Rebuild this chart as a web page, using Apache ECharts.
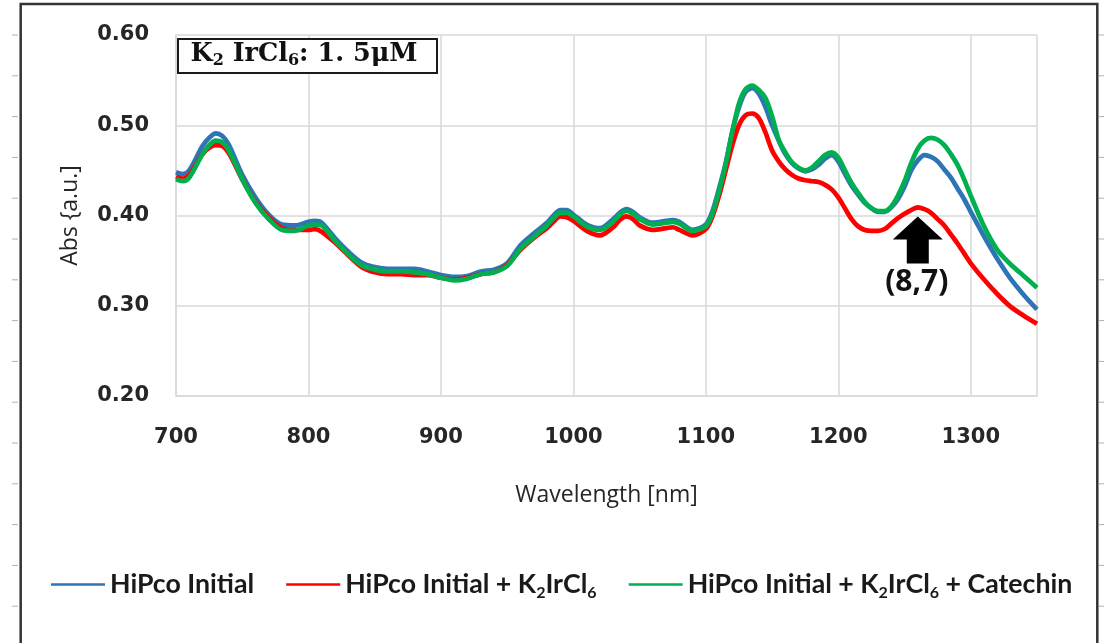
<!DOCTYPE html>
<html>
<head>
<meta charset="utf-8">
<script src="https://cdn.jsdelivr.net/npm/echarts@6/dist/echarts.min.js"></script>
<style>html,body{margin:0;padding:0;background:#fff}#c{width:1107px;height:643px}</style>
</head>
<body>
<div id="c"></div>
<script>
const wavelengths = [700,705,710,720,725,730,735,740,750,760,770,780,790,800,805,810,820,830,840,850,860,870,880,890,900,910,920,930,940,950,960,970,980,985,990,995,1000,1010,1020,1030,1035,1040,1045,1050,1060,1070,1075,1080,1090,1100,1105,1110,1115,1120,1125,1130,1135,1140,1145,1150,1155,1160,1165,1170,1175,1180,1185,1190,1195,1200,1205,1210,1215,1220,1225,1230,1235,1240,1245,1250,1255,1260,1265,1270,1275,1280,1285,1290,1295,1300,1310,1320,1330,1340,1350];

const hipcoInitial = [0.448,0.446,0.450,0.477,0.486,0.491,0.488,0.478,0.445,0.420,0.401,0.390,0.389,0.393,0.394,0.392,0.375,0.360,0.348,0.343,0.341,0.341,0.341,0.338,0.334,0.332,0.333,0.338,0.340,0.347,0.367,0.380,0.392,0.400,0.406,0.406,0.401,0.390,0.386,0.396,0.403,0.407,0.404,0.398,0.392,0.394,0.395,0.393,0.384,0.390,0.405,0.430,0.458,0.493,0.520,0.537,0.541,0.535,0.520,0.500,0.483,0.468,0.458,0.452,0.449,0.451,0.456,0.463,0.467,0.460,0.446,0.433,0.423,0.414,0.408,0.404,0.404,0.409,0.418,0.432,0.450,0.461,0.467,0.465,0.460,0.451,0.442,0.430,0.418,0.404,0.377,0.352,0.330,0.312,0.296];

const hipcoK2IrCl6 = [0.443,0.441,0.445,0.468,0.475,0.478,0.477,0.469,0.440,0.415,0.398,0.386,0.384,0.384,0.385,0.382,0.370,0.356,0.343,0.337,0.335,0.335,0.334,0.334,0.331,0.329,0.331,0.335,0.337,0.345,0.362,0.375,0.386,0.393,0.399,0.398,0.394,0.383,0.378,0.387,0.395,0.399,0.396,0.389,0.384,0.386,0.387,0.384,0.378,0.385,0.399,0.422,0.450,0.478,0.500,0.511,0.513,0.508,0.492,0.472,0.460,0.451,0.445,0.441,0.439,0.438,0.437,0.434,0.429,0.420,0.408,0.396,0.388,0.384,0.383,0.383,0.385,0.391,0.397,0.402,0.406,0.409,0.407,0.403,0.396,0.389,0.379,0.369,0.358,0.347,0.329,0.313,0.299,0.289,0.280];

const hipcoK2IrCl6Catechin = [0.440,0.438,0.442,0.468,0.478,0.483,0.481,0.472,0.440,0.414,0.396,0.384,0.383,0.389,0.390,0.389,0.372,0.357,0.345,0.340,0.338,0.338,0.337,0.335,0.331,0.328,0.330,0.335,0.337,0.344,0.363,0.376,0.389,0.397,0.403,0.403,0.399,0.388,0.384,0.393,0.401,0.405,0.402,0.396,0.390,0.392,0.393,0.391,0.383,0.388,0.402,0.427,0.457,0.493,0.524,0.540,0.544,0.539,0.530,0.510,0.484,0.470,0.459,0.453,0.450,0.453,0.460,0.467,0.470,0.464,0.450,0.436,0.425,0.415,0.408,0.405,0.405,0.410,0.422,0.438,0.458,0.474,0.483,0.486,0.484,0.478,0.468,0.456,0.440,0.422,0.388,0.362,0.346,0.333,0.320];

const seriesNames = ['HiPco Initial', 'HiPco Initial + K2IrCl6', 'HiPco Initial + K2IrCl6 + Catechin'];
const seriesColors = ['#2E75B6', '#FF0000', '#00B050'];
const seriesValues = [hipcoInitial, hipcoK2IrCl6, hipcoK2IrCl6Catechin];
const xTicks = {min: 700, max: 1350, interval: 100};
const yTicks = {min: 0.2, max: 0.6, interval: 0.1};
const annotationPoint = [1260, 0.399];
const annotationLabel = '(8,7)';

function pairs(vals) { return wavelengths.map((w, i) => [w, vals[i]]); }
function legendFmt(n) {
  return n.split('K2IrCl6').map(p => p ? '{t|' + p + '}' : '').join('{t|K}{s|2}{t|IrCl}{s|6}');
}

const chart = echarts.init(document.getElementById('c'), null, {renderer: 'canvas'});
const sansFont = 'Lato, "Open Sans", sans-serif';

chart.setOption({
  animation: false,
  backgroundColor: '#ffffff',
  grid: {left: 176, right: 70, top: 35, bottom: 247, containLabel: false},
  xAxis: {
    type: 'value', min: xTicks.min, max: xTicks.max, interval: xTicks.interval,
    name: 'Wavelength [nm]', nameLocation: 'middle', nameGap: 88,
    nameTextStyle: {fontFamily: '"Open Sans", sans-serif', fontSize: 23, color: '#262626'},
    axisLine: {show: true, lineStyle: {color: '#d9d9d9', width: 1.5}},
    axisTick: {show: false},
    axisLabel: {margin: 31, fontFamily: '"DejaVu Sans", sans-serif', fontWeight: 'bold', fontSize: 21, color: '#262626', showMaxLabel: false, formatter: v => String(v)},
    splitLine: {show: true, lineStyle: {color: '#d9d9d9', width: 1.5}}
  },
  yAxis: {
    type: 'value', min: yTicks.min, max: yTicks.max, interval: yTicks.interval,
    name: 'Abs {a.u.]', nameLocation: 'middle', nameGap: 94, nameRotate: 90,
    nameTextStyle: {fontFamily: '"Open Sans", sans-serif', fontSize: 23, color: '#262626'},
    axisLine: {show: true, lineStyle: {color: '#d9d9d9', width: 1.5}},
    axisTick: {show: false},
    axisLabel: {margin: 27, fontFamily: '"DejaVu Sans", sans-serif', fontWeight: 'bold', fontSize: 21, color: '#262626', formatter: v => v.toFixed(2)},
    splitLine: {show: true, lineStyle: {color: '#d9d9d9', width: 1.5}}
  },
  legend: {
    left: 46, top: 566, itemWidth: 54, itemHeight: 14, itemGap: 32,
    icon: 'path://M0,6 L54,6 L54,8.5 L0,8.5 Z',
    data: seriesNames,
    formatter: legendFmt,
    textStyle: {
      color: '#1a1a1a',
      rich: {
        t: {fontFamily: sansFont, fontWeight: 'bold', fontSize: 26.7, lineHeight: 32, color: '#1a1a1a'},
        s: {fontFamily: sansFont, fontWeight: 'bold', fontSize: 16, lineHeight: 16, verticalAlign: 'bottom', color: '#1a1a1a'}
      }
    }
  },
  series: seriesNames.map((n, i) => ({
    name: n, type: 'line', data: pairs(seriesValues[i]),
    showSymbol: false, symbol: 'none', smooth: 0.3,
    color: seriesColors[i],
    lineStyle: {color: seriesColors[i], width: 4.7},
    z: 2 + i
  }))
});

const tip = chart.convertToPixel({xAxisIndex: 0, yAxisIndex: 0}, annotationPoint);
const tx = tip[0], ty = tip[1];

const deco = [];
for (let k = 0; k < 15; k++) {
  const y = 35 + k * 40.8;
  deco.push({type: 'line', shape: {x1: 12, y1: y, x2: 18, y2: y}, style: {stroke: '#b0b0b0', lineWidth: 1}, silent: true});
  deco.push({type: 'line', shape: {x1: 1099, y1: y, x2: 1104, y2: y}, style: {stroke: '#b0b0b0', lineWidth: 1}, silent: true});
}

chart.setOption({
  graphic: deco.concat([
    {type: 'rect', shape: {x: 20.7, y: 4, width: 1076.6, height: 700}, style: {fill: 'none', stroke: '#333333', lineWidth: 2.5}, silent: true, z: 100},
    {type: 'rect', shape: {x: 178, y: 39, width: 259, height: 34}, style: {fill: '#ffffff', stroke: '#1a1a1a', lineWidth: 2}, z: 100},
    {type: 'text', x: 304, y: 54, z: 101,
      style: {
        text: '{a|K}{b|2}{a| IrCl}{b|6}{a|: 1. 5μM}',
        align: 'center', verticalAlign: 'middle',
        rich: {
          a: {fontFamily: '"DejaVu Serif", "Liberation Serif", serif', fontWeight: 'bold', fontSize: 25.5, lineHeight: 30, fill: '#111'},
          b: {fontFamily: '"DejaVu Serif", "Liberation Serif", serif', fontWeight: 'bold', fontSize: 16, lineHeight: 16, verticalAlign: 'bottom', fill: '#111'}
        }
      }
    },
    {type: 'polygon', z: 100,
      shape: {points: [[tx, ty], [tx + 25, ty + 23], [tx + 11, ty + 23], [tx + 11, ty + 47], [tx - 11, ty + 47], [tx - 11, ty + 23], [tx - 25, ty + 23]]},
      style: {fill: '#000000'}
    },
    {type: 'text', x: tx - 1, y: ty + 66, z: 100,
      style: {text: annotationLabel, align: 'center', verticalAlign: 'middle', fontFamily: '"Open Sans", sans-serif', fontWeight: 'bold', fontSize: 30, fill: '#111'}
    }
  ])
});
</script>
</body>
</html>
